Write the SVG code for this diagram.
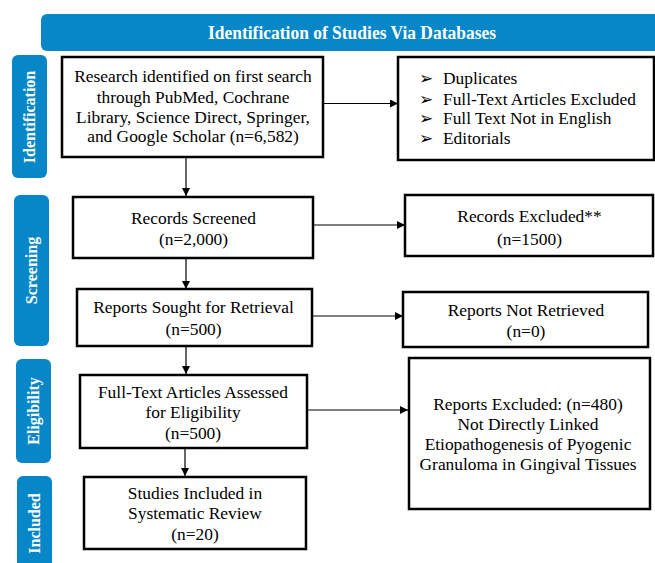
<svg xmlns="http://www.w3.org/2000/svg" width="655" height="563" viewBox="0 0 655 563">
<style>
.tab{fill:#0787c8}
.tabt{font-family:"Liberation Serif","Times New Roman",serif;font-weight:bold;font-size:16px;fill:#fff;text-anchor:middle}
.box{fill:#fff;stroke:#000;stroke-width:2.5}
.t{font-family:"Liberation Serif","Times New Roman",serif;font-size:17.4px;fill:#000;text-anchor:middle}
.tl{font-family:"Liberation Serif","Times New Roman",serif;font-size:17.4px;fill:#000}
.bul{font-family:"DejaVu Sans",sans-serif;font-size:17px;fill:#000}
.c{stroke:#000;stroke-width:1.2;fill:none;marker-end:url(#ah)}
</style>
<defs>
<marker id="ah" viewBox="0 0 10 10" refX="10" refY="5" markerWidth="8" markerHeight="8" markerUnits="userSpaceOnUse" orient="auto">
<path d="M0,0 L10,5 L0,10 z" fill="#000"/>
</marker>
</defs>
<rect width="655" height="563" fill="#fff"/>
<g id="header">
<rect class="tab" x="41" y="14" width="625" height="37" rx="6"/>
<text x="352" y="39" font-family="Liberation Serif, Times New Roman, serif" font-weight="bold" font-size="18" fill="#fff" text-anchor="middle" textLength="288" lengthAdjust="spacingAndGlyphs">Identification of Studies Via Databases</text>
</g>
<g id="tab-identification">
<rect class="tab" x="12" y="55" width="35" height="123" rx="6"/>
<text class="tabt" transform="translate(35,117) rotate(-90)">Identification</text>
</g>
<g id="tab-screening">
<rect class="tab" x="14" y="195" width="35" height="151" rx="6"/>
<text class="tabt" transform="translate(37,270.5) rotate(-90)">Screening</text>
</g>
<g id="tab-eligibility">
<rect class="tab" x="16" y="359" width="35" height="104" rx="6"/>
<text class="tabt" transform="translate(39,411) rotate(-90)">Eligibility</text>
</g>
<g id="tab-included">
<rect class="tab" x="17" y="476" width="35" height="100" rx="6"/>
<text class="tabt" transform="translate(40,523.5) rotate(-90)">Included</text>
</g>
<g id="connectors">
<path class="c" d="M323,103.5 H398"/>
<path class="c" d="M186,157 V196"/>
<path class="c" d="M313,225 H405"/>
<path class="c" d="M186,258 V289"/>
<path class="c" d="M312,316 H403"/>
<path class="c" d="M186,346 V374"/>
<path class="c" d="M307,410 H408"/>
<path class="c" d="M185,448 V476"/>
</g>
<g id="n-identified">
<rect class="box" x="62" y="57" width="261" height="100"/>
<text class="t" x="193" y="82">Research identified on first search</text>
<text class="t" x="193" y="103">through PubMed, Cochrane</text>
<text class="t" x="193" y="123">Library, Science Direct, Springer,</text>
<text class="t" x="193" y="142">and Google Scholar (n=6,582)</text>
</g>
<g id="n-removed">
<rect class="box" x="398" y="57" width="256" height="103"/>
<text class="bul" x="419" y="84">➢</text><text class="tl" x="443" y="84">Duplicates</text>
<text class="bul" x="419" y="105">➢</text><text class="tl" x="443" y="105">Full-Text Articles Excluded</text>
<text class="bul" x="419" y="124">➢</text><text class="tl" x="443" y="124">Full Text Not in English</text>
<text class="bul" x="419" y="144">➢</text><text class="tl" x="443" y="144">Editorials</text>
</g>
<g id="n-screened">
<rect class="box" x="73" y="197" width="240" height="61"/>
<text class="t" x="193.5" y="224">Records Screened</text>
<text class="t" x="193.5" y="245">(n=2,000)</text>
</g>
<g id="n-excluded">
<rect class="box" x="405" y="195" width="248" height="61"/>
<text class="t" x="529.5" y="222">Records Excluded**</text>
<text class="t" x="529.5" y="245">(n=1500)</text>
</g>
<g id="n-sought">
<rect class="box" x="77" y="289" width="235" height="57"/>
<text class="t" x="193.5" y="313">Reports Sought for Retrieval</text>
<text class="t" x="193.5" y="335">(n=500)</text>
</g>
<g id="n-notretrieved">
<rect class="box" x="403" y="292" width="245" height="55"/>
<text class="t" x="526" y="316">Reports Not Retrieved</text>
<text class="t" x="526" y="337">(n=0)</text>
</g>
<g id="n-assessed">
<rect class="box" x="80" y="375" width="227" height="73"/>
<text class="t" x="193" y="398">Full-Text Articles Assessed</text>
<text class="t" x="193" y="418">for Eligibility</text>
<text class="t" x="193" y="439">(n=500)</text>
</g>
<g id="n-reportsexcluded">
<rect class="box" x="409" y="358" width="241" height="151"/>
<text class="t" x="528" y="410">Reports Excluded: (n=480)</text>
<text class="t" x="528" y="430">Not Directly Linked</text>
<text class="t" x="528" y="450">Etiopathogenesis of Pyogenic</text>
<text class="t" x="528" y="470">Granuloma in Gingival Tissues</text>
</g>
<g id="n-included">
<rect class="box" x="84" y="477" width="222" height="72"/>
<text class="t" x="195" y="499">Studies Included in</text>
<text class="t" x="195" y="519">Systematic Review</text>
<text class="t" x="195" y="540">(n=20)</text>
</g>
</svg>
